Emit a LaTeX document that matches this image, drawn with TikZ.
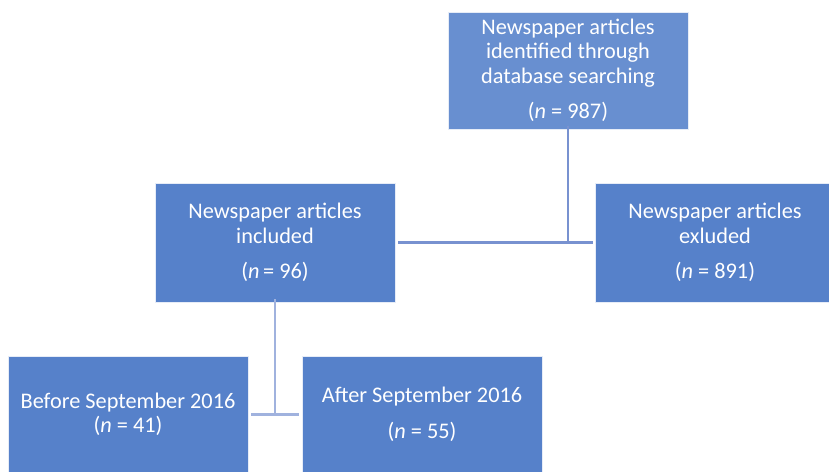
\documentclass[tikz,border=0pt]{standalone}
\usepackage{fontspec}
\setmainfont{Carlito}
\definecolor{boxblue}{RGB}{86,129,202}
\definecolor{topblue}{RGB}{104,143,208}
\definecolor{lineblue}{RGB}{120,146,208}
\definecolor{linelight}{RGB}{160,178,222}
\tikzset{
  boxnode/.style={rectangle, fill=boxblue, draw=white!85!boxblue, line width=0.8pt,
    minimum width=240pt, inner sep=0pt, text=white, align=center,
    font=\fontsize{22.3}{24.5}\selectfont},
  conn/.style={draw=lineblue, line width=2.6pt},
  connlight/.style={draw=linelight, line width=2.6pt}
}
\begin{document}
\begin{tikzpicture}[x=1pt,y=-1pt]
\useasboundingbox (0,0) rectangle (829,471);
\clip (0,0) rectangle (829,471);
\node[boxnode, fill=topblue, minimum height=117pt] (top) at (568,70.5)
  {Newspaper articles\\identified through\\database searching\\[11pt](\textit{n} = 987)};
\node[boxnode, minimum height=119pt] (midL) at (275,242.5)
  {Newspaper articles\\included\\[11pt](\textit{n}\,= 96)};
\node[boxnode, minimum height=119pt] (midR) at (715,242.5)
  {Newspaper articles\\exluded\\[11pt](\textit{n} = 891)};
\node[boxnode, minimum height=117pt] (botL) at (128,414.5)
  {Before September 2016\\(\textit{n} = 41)};
\node[boxnode, minimum height=117pt] (botR) at (422,414.5)
  {After September 2016\\[11pt](\textit{n} = 55)};
\draw[conn] ([yshift=3pt]top.south) -- (top.south |- midR.west);
\draw[conn] ([xshift=3pt]midL.east) -- ([xshift=-2pt]midR.west);
\draw[connlight] ([yshift=3pt]midL.south) -- (midL.south |- botL.east);
\draw[connlight] ([xshift=3pt]botL.east) -- ([xshift=-3pt]botR.west);
\end{tikzpicture}
\end{document}
